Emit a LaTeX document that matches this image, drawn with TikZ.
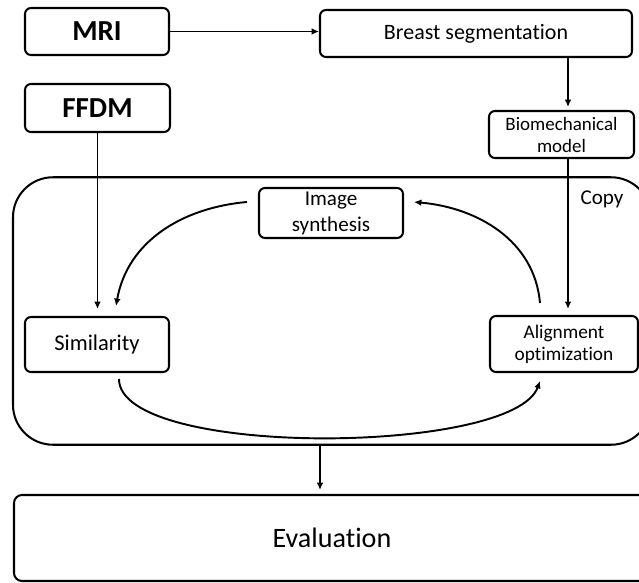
\documentclass[tikz,border=0pt]{standalone}
\usepackage{fontspec}
\setmainfont{Carlito}[Ligatures=NoCommon]
\usetikzlibrary{arrows.meta}

\begin{document}
\begin{tikzpicture}[
    box/.style={rectangle, draw, line width=1.15pt, rounded corners=0.12cm, inner sep=0pt, align=center},
    arrow/.style={-{Latex[length=4.2pt,width=3.8pt]}, line width=1.1pt},
  ]
  \useasboundingbox (0, 0) rectangle (12.78, -11.66);
  \clip (0, 0) rectangle (12.78, -11.66);
  % Nodes
  \node (MRI) [box, minimum width=2.88cm, minimum height=0.94cm, font=\fontsize{16.5}{18}\selectfont\bfseries] at (1.94, -0.63) {MRI};
  \node (SEG) [box, minimum width=6.24cm, minimum height=0.94cm, font=\fontsize{12.5}{14}\selectfont] at (9.52, -0.67) {Breast segmentation};
  \node (FFDM) [box, minimum width=2.90cm, minimum height=0.96cm, font=\fontsize{16.5}{18}\selectfont\bfseries] at (1.95, -2.16) {FFDM};
  \node (BIO) [box, minimum width=2.90cm, minimum height=0.94cm, font=\fontsize{10.8}{12.5}\selectfont] at (11.23, -2.69) {Biomechanical\\model};
  \node (LOOP) [box, rounded corners=0.8cm, minimum width=12.76cm, minimum height=5.35cm] at (6.64, -6.22) {};
  \node (SYN) [box, minimum width=2.88cm, minimum height=1.00cm, font=\fontsize{12}{14.8}\selectfont] at (6.62, -4.26) {Image\\synthesis};
  \node (SIM) [box, minimum width=2.88cm, minimum height=1.10cm, font=\fontsize{12.8}{15}\selectfont] at (1.94, -6.89) {Similarity};
  \node (ALIGN) [box, minimum width=2.96cm, minimum height=1.12cm, font=\fontsize{11}{12.5}\selectfont] at (11.28, -6.88) {Alignment\\optimization};
  \node (copy) [font=\fontsize{12}{13}\selectfont] at (12.04, -3.98) {Copy};
  \node (EVAL) [box, rounded corners=0.16cm, minimum width=12.72cm, minimum height=1.72cm, font=\fontsize{16}{18}\selectfont] at (6.64, -10.76) {Evaluation};
  % Arrows
  \draw[arrow] (MRI.east) -- (MRI.east -| SEG.west);
  \draw[arrow, shorten >=0.06cm] ([xshift=0.13cm]BIO.north |- SEG.south) -- ([xshift=0.13cm]BIO.north);
  \draw[arrow, shorten >=0.14cm] (FFDM.south) -- (FFDM.south |- SIM.north);
  \draw[arrow, shorten >=0.12cm] ([xshift=0.13cm]BIO.south) -- ([xshift=0.13cm]BIO.south |- ALIGN.north);
  \draw[arrow, shorten >=0.08cm] ([xshift=-0.24cm]LOOP.south) -- ([xshift=-0.24cm]LOOP.south |- EVAL.north);
  % Loop
  \draw[arrow] ([xshift=-0.22cm, yshift=0.22cm]SYN.west) to[out=185, in=80] ([xshift=0.38cm, yshift=0.2cm]SIM.north);
  \draw[arrow] ([xshift=-0.48cm, yshift=0.24cm]ALIGN.north) to[out=95, in=-5] ([xshift=0.2cm, yshift=0.22cm]SYN.east);
  \draw[arrow] ([xshift=0.44cm, yshift=-0.12cm]SIM.south) to[out=-90, in=-110, looseness=0.48] ([xshift=-0.48cm, yshift=-0.16cm]ALIGN.south);
\end{tikzpicture}
\end{document}
